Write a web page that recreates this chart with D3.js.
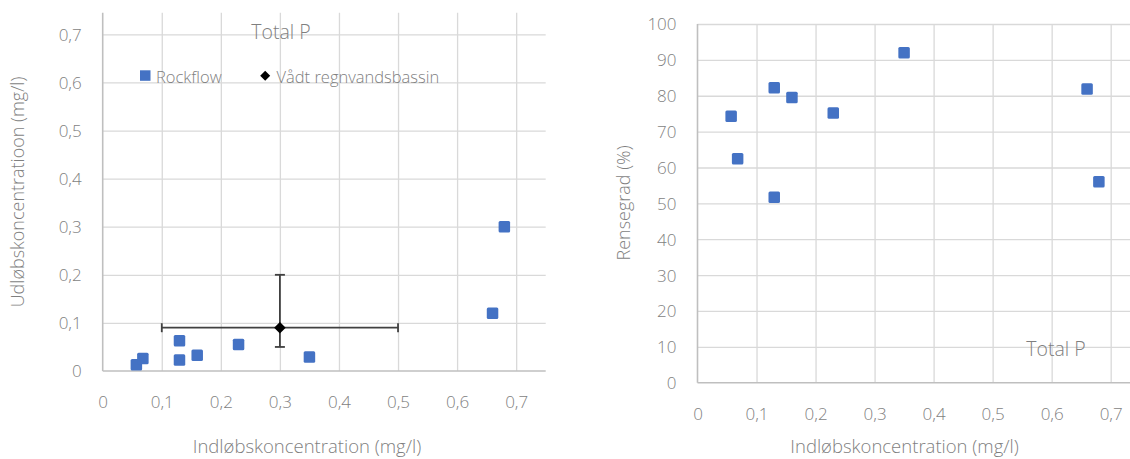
<!DOCTYPE html>
<html>
<head>
<meta charset="utf-8">
<script src="https://cdn.jsdelivr.net/npm/d3@7"></script>
<style>
  html, body { margin: 0; padding: 0; background: #fff; }
  svg { display: block; }
  text { font-family: "Open Sans", "Noto Sans", sans-serif; font-weight: 300; fill: #7f7f7f; }
</style>
</head>
<body>
<svg id="chart" width="1130" height="459"></svg>
<script>
// Rockflow measurements: inflow / outflow concentration (mg/l) and removal rate (%)
const rockflowIn = [0.057, 0.068, 0.13, 0.13, 0.16, 0.23, 0.35, 0.66, 0.68];
const rockflowOut = [0.013, 0.026, 0.063, 0.023, 0.033, 0.055, 0.029, 0.12, 0.30];
const rockflowRemoval = [74.3, 62.4, 51.7, 82.2, 79.5, 75.2, 92.0, 81.9, 56.0];

// Wet stormwater pond: mean value with ranges
const pondIn = [0.3];
const pondOut = [0.09];
const pondInRange = [0.1, 0.5];
const pondOutRange = [0.05, 0.2];

// Axis ticks
const concTicks = [0, 0.1, 0.2, 0.3, 0.4, 0.5, 0.6, 0.7];
const removalTicks = [0, 10, 20, 30, 40, 50, 60, 70, 80, 90, 100];
const concDomain = [0, 0.75];
const outDomain = [0, 0.745];
const removalDomain = [0, 100];

const seriesNames = ["Rockflow", "Vådt regnvandsbassin"];
const chartTitle = "Total P";
const xTitle = "Indløbskoncentration (mg/l)";
const yTitleLeft = "Udløbskoncentratioon (mg/l)";
const yTitleRight = "Rensegrad (%)";

const BLUE = "#4472C4";
const GRID = "#d9d9d9";
const AXIS = "#bfbfbf";
const ERR = "#404040";

const svg = d3.select("#chart");
const comma = d => d === 0 ? "0" : d3.format(".1f")(d).replace(".", ",");

function panel(box, xDomain, yDomain, yTicks, yFmt) {
  const x = d3.scaleLinear().domain(xDomain).range([box.left, box.right]);
  const y = d3.scaleLinear().domain(yDomain).range([box.bottom, box.top]);
  const g = svg.append("g");

  // vertical gridlines
  g.append("g")
    .attr("transform", `translate(0,${box.bottom})`)
    .call(d3.axisBottom(x).tickValues(concTicks.filter(t => t > 0)).tickSize(-(box.bottom - box.top)).tickFormat(""))
    .call(a => a.select(".domain").remove())
    .call(a => a.selectAll("line").attr("stroke", GRID).attr("stroke-width", 1.3));

  // horizontal gridlines
  g.append("g")
    .attr("transform", `translate(${box.left},0)`)
    .call(d3.axisLeft(y).tickValues(yTicks.filter(t => t > 0)).tickSize(-(box.right - box.left)).tickFormat(""))
    .call(a => a.select(".domain").remove())
    .call(a => a.selectAll("line").attr("stroke", GRID).attr("stroke-width", 1.3));

  // axis lines
  g.append("line").attr("x1", box.left).attr("x2", box.right)
    .attr("y1", y(0)).attr("y2", y(0)).attr("stroke", AXIS).attr("stroke-width", 1.6);
  g.append("line").attr("x1", x(0)).attr("x2", x(0))
    .attr("y1", box.top).attr("y2", box.bottom).attr("stroke", AXIS).attr("stroke-width", 1.6);

  // tick labels
  g.append("g")
    .attr("transform", `translate(0,${box.bottom + 31})`)
    .call(d3.axisBottom(x).tickValues(concTicks).tickSize(0).tickPadding(0).tickFormat(comma))
    .call(a => a.select(".domain").remove())
    .call(a => a.selectAll("text").attr("y", 0).attr("dy", "0.35em")
      .attr("font-size", 17).attr("fill", "#7f7f7f").attr("font-family", null));

  g.append("g")
    .attr("transform", `translate(${box.left - 21},0)`)
    .call(d3.axisLeft(y).tickValues(yTicks).tickSize(0).tickPadding(0).tickFormat(yFmt))
    .call(a => a.select(".domain").remove())
    .call(a => a.selectAll("text").attr("x", 0).attr("dy", "0.35em")
      .attr("font-size", 17).attr("fill", "#7f7f7f").attr("font-family", null));

  return { x, y, g };
}

// ---- left panel: outflow vs inflow concentration ----
const L = panel({ left: 102.7, right: 545.7, top: 12.7, bottom: 371 }, concDomain, outDomain, concTicks, comma);

L.g.append("text").attr("x", 281).attr("y", 39).attr("text-anchor", "middle")
  .attr("font-size", 19.5).text(chartTitle);

// legend
const leg = L.g.append("g");
leg.append("rect").attr("x", 140).attr("y", 70.3).attr("width", 10.5).attr("height", 10.5).attr("fill", BLUE);
leg.append("text").attr("x", 156).attr("y", 82.5).attr("font-size", 16.5).text(seriesNames[0]);
leg.append("path").attr("d", "M265.2,70.8L270.2,75.8L265.2,80.8L260.2,75.8Z").attr("fill", "#000");
leg.append("text").attr("x", 276.5).attr("y", 82.5).attr("font-size", 16.5).text(seriesNames[1]);

// pond ranges (error bars)
const eb = L.g.append("g").attr("stroke", ERR).attr("stroke-width", 1.8).attr("fill", "none");
const px = L.x(pondIn[0]), py = L.y(pondOut[0]);
eb.append("line").attr("x1", L.x(pondInRange[0])).attr("x2", L.x(pondInRange[1])).attr("y1", py).attr("y2", py);
pondInRange.forEach(v => eb.append("line").attr("x1", L.x(v)).attr("x2", L.x(v)).attr("y1", py - 4.5).attr("y2", py + 4.5));
eb.append("line").attr("x1", px).attr("x2", px).attr("y1", L.y(pondOutRange[0])).attr("y2", L.y(pondOutRange[1]));
pondOutRange.forEach(v => eb.append("line").attr("x1", px - 5).attr("x2", px + 5).attr("y1", L.y(v)).attr("y2", L.y(v)));

// Rockflow points
L.g.append("g").selectAll("rect").data(d3.range(rockflowIn.length)).join("rect")
  .attr("x", i => L.x(rockflowIn[i]) - 5.75).attr("y", i => L.y(rockflowOut[i]) - 5.75)
  .attr("width", 11.5).attr("height", 11.5).attr("rx", 1.5).attr("fill", BLUE);

// pond mean point
L.g.append("g").selectAll("path").data(d3.range(pondIn.length)).join("path")
  .attr("d", i => {
    const cx = L.x(pondIn[i]), cy = L.y(pondOut[i]), r = 5.8;
    return `M${cx},${cy - r}L${cx + r},${cy}L${cx},${cy + r}L${cx - r},${cy}Z`;
  })
  .attr("fill", "#000");

// axis titles
svg.append("text").attr("x", 307).attr("y", 453).attr("text-anchor", "middle")
  .attr("font-size", 18.5).text(xTitle);
svg.append("text").attr("transform", "translate(24,192) rotate(-90)").attr("text-anchor", "middle")
  .attr("font-size", 18).text(yTitleLeft);

// ---- right panel: removal rate vs inflow concentration ----
const R = panel({ left: 697.5, right: 1140.2, top: 24, bottom: 382.7 }, concDomain, removalDomain, removalTicks, d3.format("d"));

R.g.append("g").selectAll("rect").data(d3.range(rockflowIn.length)).join("rect")
  .attr("x", i => R.x(rockflowIn[i]) - 5.75).attr("y", i => R.y(rockflowRemoval[i]) - 5.75)
  .attr("width", 11.5).attr("height", 11.5).attr("rx", 1.5).attr("fill", BLUE);

R.g.append("text").attr("x", 1056).attr("y", 356).attr("text-anchor", "middle")
  .attr("font-size", 19.5).text(chartTitle);

svg.append("text").attr("x", 904.6).attr("y", 453).attr("text-anchor", "middle")
  .attr("font-size", 18.5).text(xTitle);
svg.append("text").attr("transform", "translate(630,203) rotate(-90)").attr("text-anchor", "middle")
  .attr("font-size", 18).text(yTitleRight);
</script>
</body>
</html>
